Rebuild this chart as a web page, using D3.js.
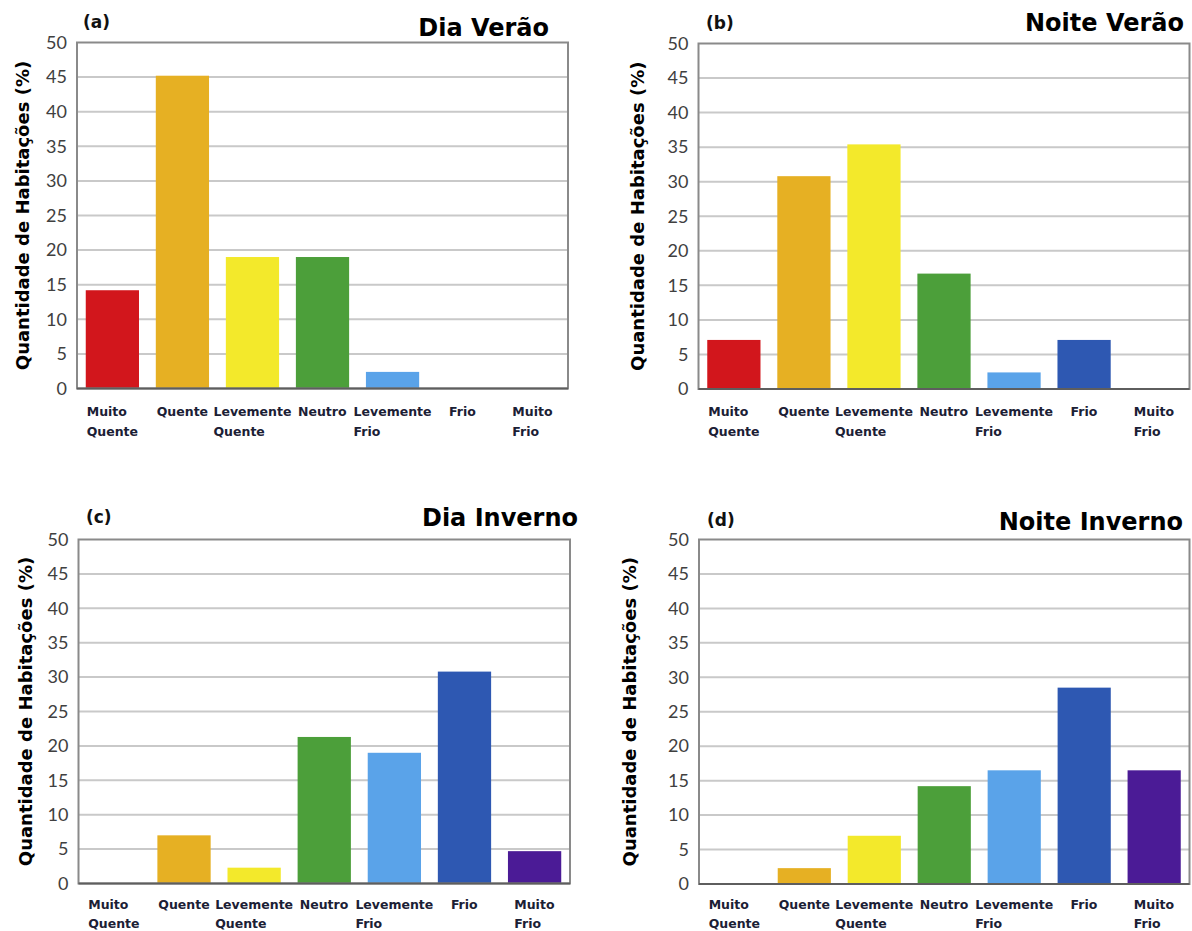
<!DOCTYPE html>
<html>
<head>
<meta charset="utf-8">
<script src="https://cdn.jsdelivr.net/npm/d3@7"></script>
<style>
  html, body { margin: 0; padding: 0; background: #ffffff; }
  svg { display: block; }
</style>
</head>
<body>
<svg id="chart" width="1192" height="931"></svg>
<script>
// ---- data ----
const categories = ["Muito Quente", "Quente", "Levemente Quente", "Neutro", "Levemente Frio", "Frio", "Muito Frio"];
const categoryLines = [["Muito", "Quente"], ["Quente"], ["Levemente", "Quente"], ["Neutro"], ["Levemente", "Frio"], ["Frio"], ["Muito", "Frio"]];
const categoryColors = ["#d2161c", "#e6b023", "#f3e92b", "#4c9f3a", "#5aa3e9", "#2e58b2", "#4b1b96"];
const valuesDiaVerao = [14.2, 45.2, 19.0, 19.0, 2.4, 0, 0];
const valuesNoiteVerao = [7.1, 30.8, 35.4, 16.7, 2.4, 7.1, 0];
const valuesDiaInverno = [0, 7.0, 2.3, 21.3, 19.0, 30.8, 4.7];
const valuesNoiteInverno = [0, 2.3, 7.0, 14.2, 16.5, 28.5, 16.5];
const yTicks = [0, 5, 10, 15, 20, 25, 30, 35, 40, 45, 50];
const panelTags = ["(a)", "(b)", "(c)", "(d)"];
const panelTitles = ["Dia Verão", "Noite Verão", "Dia Inverno", "Noite Inverno"];
const yAxisTitle = "Quantidade de Habitações (%)";

// ---- layout (pixel boxes of each panel's plot frame) ----
const panels = [
  { values: valuesDiaVerao,     x0: 77,    x1: 568,    y0: 42.5,  y1: 388.5, yl: 22,  tx: 549,  ty: 36,  gx: 83,  gy: 28,  lb: 27, ls: 20 },
  { values: valuesNoiteVerao,   x0: 698.5, x1: 1189.5, y0: 43.5,  y1: 389,   yl: 637, tx: 1184, ty: 31,  gx: 706, gy: 29,  lb: 27, ls: 20 },
  { values: valuesDiaInverno,   x0: 78.5,  x1: 570,    y0: 539.5, y1: 883.5, yl: 25,  tx: 578,  ty: 526, gx: 86,  gy: 523, lb: 25, ls: 19 },
  { values: valuesNoiteInverno, x0: 699,   x1: 1189.5, y0: 539.5, y1: 884,   yl: 629, tx: 1183, ty: 530, gx: 707, gy: 526, lb: 25, ls: 19 }
];

const svg = d3.select("#chart");
const TICKFONT = "Lato, 'Open Sans', sans-serif";
const BOLDFONT = "'DejaVu Sans', Verdana, sans-serif";

panels.forEach((p, i) => {
  const g = svg.append("g");
  const x = d3.scaleBand().domain(categories).range([p.x0, p.x1]).paddingInner(0.24).paddingOuter(0.125);
  const y = d3.scaleLinear().domain([0, 50]).range([p.y1, p.y0]);

  // gridlines
  g.append("g").selectAll("line").data(yTicks.filter(t => t > 0 && t < 50)).join("line")
    .attr("x1", p.x0).attr("x2", p.x1)
    .attr("y1", d => y(d)).attr("y2", d => y(d))
    .attr("stroke", "#c9c9c9").attr("stroke-width", 2);

  // bars
  g.append("g").selectAll("rect").data(p.values).join("rect")
    .attr("x", (d, j) => x(categories[j]))
    .attr("width", x.bandwidth())
    .attr("y", d => y(d))
    .attr("height", d => y(0) - y(d))
    .attr("fill", (d, j) => categoryColors[j]);

  // frame
  g.append("rect")
    .attr("x", p.x0).attr("y", p.y0)
    .attr("width", p.x1 - p.x0).attr("height", p.y1 - p.y0)
    .attr("fill", "none").attr("stroke", "#8a8a8a").attr("stroke-width", 2);
  g.append("line").attr("x1", p.x0).attr("x2", p.x1).attr("y1", p.y1).attr("y2", p.y1)
    .attr("stroke", "#5e5e5e").attr("stroke-width", 2);

  // y axis tick labels
  const yAxis = d3.axisLeft(y).tickValues(yTicks).tickSize(0).tickPadding(10);
  const ya = g.append("g").attr("transform", `translate(${p.x0},0)`).call(yAxis);
  ya.select(".domain").remove();
  ya.selectAll("text").attr("font-family", TICKFONT).attr("font-size", 18).attr("fill", "#404040");

  // category labels (left-aligned block centred on band)
  categoryLines.forEach((lines, j) => {
    const cx = x(categories[j]) + x.bandwidth() / 2;
    const t = g.append("text")
      .attr("font-family", BOLDFONT).attr("font-size", 12.5).attr("font-weight", "bold")
      .attr("fill", "#1b2035");
    lines.forEach((ln, k) => {
      t.append("tspan").attr("x", cx).attr("y", p.y1 + p.lb + k * p.ls).text(ln);
    });
    const w = t.node().getBBox().width;
    t.selectAll("tspan").attr("x", cx - w / 2);
  });

  // y axis title
  g.append("text")
    .attr("transform", `translate(${p.yl},${(p.y0 + p.y1) / 2}) rotate(-90)`)
    .attr("text-anchor", "middle").attr("dominant-baseline", "central")
    .attr("font-family", BOLDFONT).attr("font-size", 18).attr("font-weight", "bold")
    .attr("fill", "#000").text(yAxisTitle);

  // panel tag
  g.append("text").attr("x", p.gx).attr("y", p.gy)
    .attr("font-family", BOLDFONT).attr("font-size", 17).attr("font-weight", "bold")
    .attr("fill", "#111").text(panelTags[i]);

  // title
  g.append("text").attr("x", p.tx).attr("y", p.ty).attr("text-anchor", "end")
    .attr("font-family", BOLDFONT).attr("font-size", 24).attr("font-weight", "bold")
    .attr("fill", "#000").text(panelTitles[i]);
});
</script>
</body>
</html>
